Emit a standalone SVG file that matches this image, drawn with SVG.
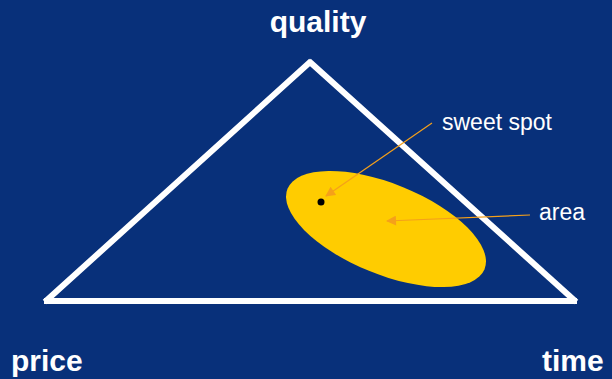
<svg xmlns="http://www.w3.org/2000/svg" width="612" height="379" viewBox="0 0 612 379">
<defs>
<style>
.edge{stroke:#ffffff;stroke-width:6;fill:none;stroke-linecap:square}
.lbl{font-family:"Liberation Sans",Arial,sans-serif;fill:#ffffff}
.b{font-weight:bold;font-size:30px}
.r{font-size:23px}
.arr{stroke:#F5A01A;stroke-width:1.2;fill:none}
</style>
<marker id="ah" viewBox="0 0 10 10" refX="9" refY="5" markerWidth="11" markerHeight="10" markerUnits="userSpaceOnUse" orient="auto">
<path d="M0,0 L10,5 L0,10 z" fill="#F5A01A"/>
</marker>
</defs>
<rect width="612" height="379" fill="#08307A"/>
<g id="triangle">
<line class="edge" x1="47" y1="300" x2="309" y2="63"/>
<line class="edge" x1="311" y1="63" x2="574" y2="300"/>
<line class="edge" x1="47" y1="301" x2="574" y2="301"/>
</g>
<g id="area-region">
<ellipse cx="386" cy="229" rx="106.4" ry="45.2" transform="rotate(22.2 386 229)" fill="#FFCC00"/>
</g>
<g id="sweet-spot-dot">
<circle cx="321" cy="202" r="3.5" fill="#000000"/>
</g>
<g id="connectors">
<line class="arr" x1="432" y1="123" x2="326" y2="196" marker-end="url(#ah)"/>
<line class="arr" x1="530" y1="215" x2="387" y2="221" marker-end="url(#ah)"/>
</g>
<g id="labels">
<text class="lbl b" x="318" y="32" text-anchor="middle">quality</text>
<text class="lbl b" x="11" y="371">price</text>
<text class="lbl b" x="542" y="371">time</text>
<text class="lbl r" x="442" y="130">sweet spot</text>
<text class="lbl r" x="539" y="220">area</text>
</g>
</svg>
